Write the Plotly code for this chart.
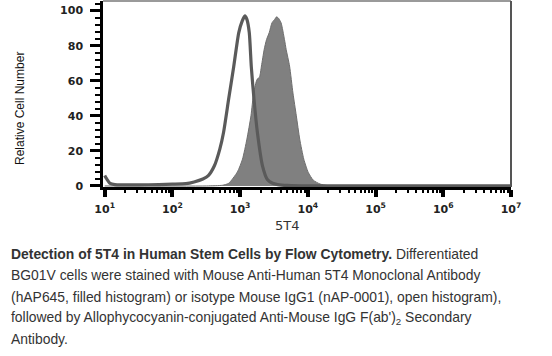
import plotly.graph_objects as go

# ---- data (log10 of 5T4 intensity, relative cell number) ----
iso_log = [1.00, 1.03, 1.08, 1.15, 1.50, 1.80, 2.00, 2.20, 2.32, 2.45, 2.53, 2.62, 2.70,
           2.755, 2.83, 2.905, 2.98, 3.03, 3.07, 3.10, 3.135, 3.165, 3.205, 3.255, 3.33,
           3.405, 3.48, 3.555, 3.70, 4.00, 7.00]
iso_count = [6, 4, 1.5, 0.8, 0.6, 0.8, 1.0, 1.3, 2.3, 4.0, 5.9, 11.5, 21,
             30.5, 49.4, 68, 87.5, 94, 97, 95, 87.5, 68, 49.4, 30.5, 11.5,
             3.5, 1.5, 0.8, 0.3, 0, 0]

fill_log = [1.00, 2.50, 2.74, 2.83, 2.96, 3.035, 3.10, 3.16, 3.20, 3.25, 3.285, 3.315,
            3.355, 3.39, 3.43, 3.47, 3.51, 3.54, 3.57, 3.605, 3.655, 3.68, 3.73, 3.78,
            3.83, 3.88, 3.94, 4.005, 4.08, 4.18, 4.30, 7.00]
fill_count = [0, 0, 0.4, 1.5, 8.0, 15.3, 26.7, 40, 53, 60.8, 62, 68.4,
              77.8, 83.5, 87.5, 93, 95, 96.5, 95.5, 93, 83.5, 77.8, 68.4, 53,
              40, 26.7, 15.3, 7.8, 3.3, 1.1, 0.2, 0]

x_tick_vals = [10, 100, 1000, 10000, 100000, 1000000, 10000000]
x_tick_text = ["10<sup>1</sup>", "10<sup>2</sup>", "10<sup>3</sup>", "10<sup>4</sup>",
               "10<sup>5</sup>", "10<sup>6</sup>", "10<sup>7</sup>"]
x_minor_vals = [m * d for d in [10, 100, 1000, 10000, 100000, 1000000]
                for m in [2, 3, 4, 5, 6, 7, 8, 9]]
y_tick_vals = [0, 20, 40, 60, 80, 100]

caption_lines = [
    "<b>Detection of 5T4 in Human Stem Cells by Flow Cytometry.</b> Differentiated",
    "BG01V cells were stained with Mouse Anti-Human 5T4 Monoclonal Antibody",
    "(hAP645, filled histogram) or isotype Mouse IgG1 (nAP-0001), open histogram),",
    "followed by Allophycocyanin-conjugated Anti-Mouse IgG F(ab')<sub>2</sub> Secondary",
    "Antibody.",
]
caption_y_px = [254, 275, 297, 318, 339]

# ---- figure ----
fig = go.Figure()
fig.add_trace(go.Scatter(
    x=[10 ** v for v in fill_log], y=fill_count, mode="lines",
    line=dict(color="#6e6e6e", width=1, shape="spline", smoothing=0.6),
    fill="tozeroy", fillcolor="#808080", hoverinfo="skip", showlegend=False))
fig.add_trace(go.Scatter(
    x=[10 ** v for v in iso_log], y=iso_count, mode="lines",
    line=dict(color="#5a5a5a", width=3.2, shape="spline", smoothing=0.6),
    hoverinfo="skip", showlegend=False))
# invisible helper trace so the minor-tick axis is drawn
fig.add_trace(go.Scatter(x=[10, 10000000], y=[0, 0], xaxis="x2", mode="lines",
                         line=dict(width=0), opacity=0, hoverinfo="skip",
                         showlegend=False))

W, H = 552, 356
L, R, T, B = 103, 511, 1, 187
pw, ph = R - L, B - T
x_range = [0.975, 7.0]

def px_x(x):
    return (x - L) / pw

def px_y(y):
    return (B - y) / ph

fig.update_layout(
    width=W, height=H,
    margin=dict(l=L, r=W - R, t=T, b=H - B, pad=0),
    paper_bgcolor="white", plot_bgcolor="white",
    xaxis=dict(type="log", range=x_range, showgrid=False, zeroline=False,
               showline=True, linecolor="black", linewidth=2.5,
               tickvals=x_tick_vals, ticktext=x_tick_text,
               ticks="outside", ticklen=7, tickwidth=4, tickcolor="black",
               tickfont=dict(family="DejaVu Sans", size=11, color="#222", weight="bold"),
               ticklabelstandoff=3),
    xaxis2=dict(type="log", range=x_range, overlaying="x", anchor="y", side="bottom",
                showgrid=False, zeroline=False, showline=False,
                tickvals=x_minor_vals, showticklabels=False,
                ticks="outside", ticklen=5, tickwidth=2, tickcolor="black"),
    yaxis=dict(range=[-0.6, 105.5], showgrid=False, zeroline=False,
               showline=True, linecolor="black", linewidth=2.5,
               tickvals=y_tick_vals, ticks="outside", ticklen=10, tickwidth=2.5,
               tickcolor="black",
               tickfont=dict(family="DejaVu Sans", size=11, color="#222", weight="bold"),
               minor=dict(dtick=4, ticks="outside", ticklen=5, tickwidth=1.5,
                          tickcolor="black"),
               ticklabelstandoff=5),
    shapes=[
        dict(type="line", xref="paper", yref="paper", x0=0, x1=1, y0=1, y1=1,
             line=dict(color="#9a9a9a", width=2), layer="below"),
        dict(type="line", xref="paper", yref="paper", x0=1, x1=1, y0=0, y1=1,
             line=dict(color="#555555", width=2), layer="below"),
    ],
)

annotations = [
    dict(text="Relative Cell Number", textangle=-90, xref="paper", yref="paper",
         x=px_x(20), y=px_y(109), xanchor="center", yanchor="middle", showarrow=False,
         font=dict(family="Liberation Sans Narrow, Liberation Sans, Arial, sans-serif",
                   size=12, color="#111")),
    dict(text="5T4", xref="paper", yref="paper", x=px_x(287), y=px_y(225),
         xanchor="center", yanchor="middle", showarrow=False,
         font=dict(family="DejaVu Sans", size=13, color="#333")),
]
for line, ypx in zip(caption_lines, caption_y_px):
    annotations.append(dict(
        text=line, xref="paper", yref="paper", x=px_x(9), y=px_y(ypx),
        xanchor="left", yanchor="middle", showarrow=False, align="left",
        font=dict(family="Liberation Sans, Arial, sans-serif", size=13.9, color="#333")))
fig.update_layout(annotations=annotations)

fig.write_html("out.html", config={"displayModeBar": False},
               post_script="document.body.style.margin='0';document.body.style.padding='0';")
